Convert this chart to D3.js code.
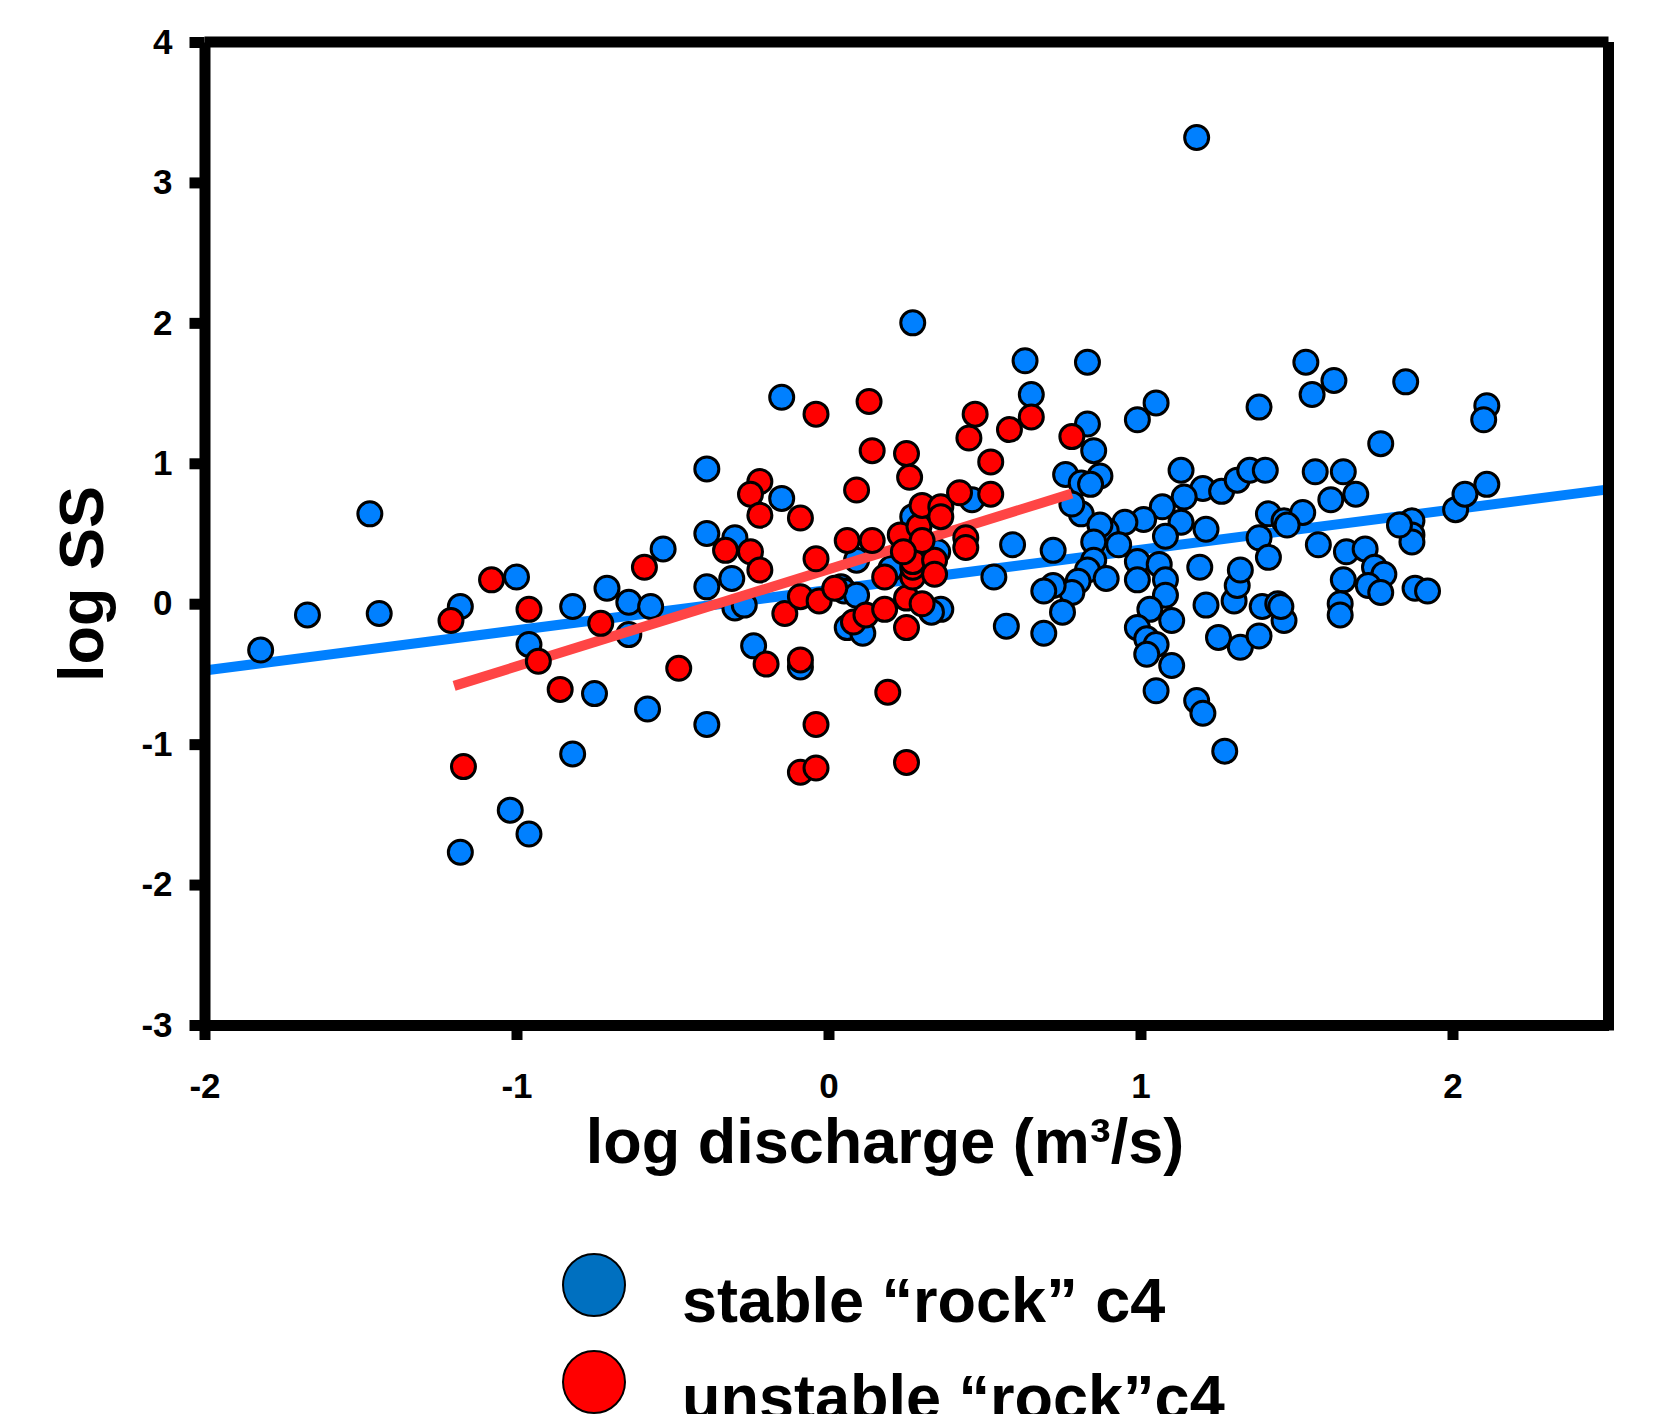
<!DOCTYPE html>
<html>
<head>
<script src="https://d3js.org/d3.v7.min.js" charset="utf-8"></script>
<style>
    body{
        margin:0;
        background:#fff;
        font-family:"Liberation Sans",Arial,Helvetica,sans-serif;
    }
    text{font-weight:bold}
</style>
</head>
<body>
<div id="chart"></div>
<script>

    // log discharge (x), log SS (y)
    var stablePoints = [
        [-1.82,-0.33],[-1.67,-0.08],[-1.47,0.64],[-1.44,-0.07],[-1.18,-0.02],[-1.00,0.19],[-0.96,-0.29],
        [-0.75,-0.64],[-0.82,-0.02],[-0.71,0.11],[-0.82,-1.07],[-1.02,-1.47],[-0.96,-1.64],[-1.18,-1.77],
        [-0.15,1.47],[-0.39,0.96],[-0.15,0.75],[-0.53,0.39],[-0.39,0.50],[-0.30,0.47],[-0.31,0.18],
        [-0.39,0.12],[-0.64,0.01],[-0.57,-0.02],[-0.64,-0.22],[-0.30,-0.03],[-0.27,-0.01],[-0.24,-0.30],
        [-0.58,-0.75],[-0.39,-0.86],[-0.09,-0.45],[0.09,0.31],[0.04,0.12],[0.05,0.09],[0.09,0.06],
        [0.06,-0.17],[0.11,-0.21],[0.36,-0.04],[0.33,-0.06],[0.27,0.62],[0.46,0.74],[0.35,0.37],[0.20,0.25],
        [0.63,1.73],[0.83,1.72],[0.65,1.49],[0.83,1.28],[0.85,1.09],[0.76,0.92],[0.81,0.86],[0.87,0.91],
        [0.84,0.85],[0.81,0.64],[0.78,0.71],[0.99,1.31],[1.05,1.43],[1.38,1.40],[1.13,0.95],[1.20,0.82],
        [1.26,0.80],[1.31,0.88],[1.35,0.95],[1.40,0.95],[1.14,0.76],[1.07,0.69],[1.13,0.58],[1.01,0.60],
        [0.95,0.58],[0.89,0.52],[0.87,0.56],[0.85,0.44],[0.93,0.42],[1.08,0.48],[1.21,0.53],[0.59,0.42],
        [0.72,0.38],[0.53,0.19],[0.85,0.31],[0.83,0.24],[0.89,0.18],[0.80,0.16],[0.78,0.08],[0.72,0.13],
        [0.69,0.09],[0.75,-0.06],[0.99,0.30],[1.06,0.28],[0.99,0.17],[1.08,0.17],[1.08,0.06],[1.03,-0.04],
        [1.10,-0.12],[0.99,-0.17],[1.02,-0.25],[1.05,-0.29],[1.02,-0.36],[1.10,-0.44],[1.05,-0.62],
        [1.18,-0.69],[1.20,-0.78],[1.27,-1.05],[1.19,0.26],[1.21,-0.01],[1.25,-0.24],[1.32,-0.31],
        [1.38,-0.23],[1.30,0.02],[1.31,0.13],[1.32,0.24],[1.39,-0.02],[1.44,0.00],[1.46,-0.12],[1.38,0.47],
        [1.41,0.33],[1.41,0.64],[1.46,0.59],[0.57,-0.16],[0.69,-0.21],
        [1.53,1.72],[1.62,1.59],[1.55,1.49],[1.85,1.58],[2.11,1.41],[2.10,1.31],[1.77,1.14],[1.56,0.94],
        [1.65,0.94],[1.69,0.78],[1.61,0.74],[1.52,0.65],[1.47,0.56],[1.57,0.42],[1.66,0.37],[1.72,0.39],
        [1.75,0.26],[1.78,0.21],[1.65,0.17],[1.73,0.13],[1.77,0.08],[1.64,0.00],[1.64,-0.08],[1.88,0.11],
        [1.92,0.09],[1.87,0.59],[1.87,0.49],[1.87,0.44],[1.83,0.56],[2.01,0.67],[2.04,0.78],[2.11,0.85],
        [1.45,-0.02],[1.18,3.32],[0.27,2.00]
    ]

    var unstablePoints = [
        [-1.21,-0.12],[-1.08,0.17],[-0.96,-0.04],[-0.93,-0.41],[-0.86,-0.61],[-0.73,-0.14],[-1.17,-1.16],
        [-0.04,1.35],[0.13,1.44],[0.47,1.35],[0.45,1.18],[0.14,1.09],[0.25,1.07],[0.26,0.90],[0.09,0.81],
        [-0.22,0.87],[-0.25,0.78],[-0.22,0.63],[-0.09,0.61],[-0.59,0.26],[-0.33,0.38],[-0.25,0.37],
        [-0.22,0.24],[-0.20,-0.43],[-0.48,-0.46],[-0.09,-0.40],[-0.04,-0.86],[-0.09,-1.20],[-0.04,-1.17],
        [0.25,-1.13],[0.19,-0.63],[-0.04,0.32],[0.06,0.45],[0.14,0.45],[-0.14,-0.07],[-0.09,0.05],
        [-0.03,0.02],[0.02,0.11],[0.08,-0.13],[0.12,-0.08],[0.18,0.19],[0.18,-0.04],[0.25,-0.17],
        [0.25,0.04],[0.27,0.19],[0.27,0.26],[0.27,0.30],[0.34,0.31],[0.34,0.21],[0.30,0.00],[0.23,0.49],
        [0.29,0.55],[0.30,0.45],[0.30,0.70],[0.36,0.69],[0.36,0.62],[0.42,0.79],[0.44,0.47],[0.44,0.40],
        [0.24,0.37],[0.58,1.24],[0.52,1.01],[0.78,1.19],[0.52,0.78],[0.65,1.33]
    ]

    // regression lines, end points
    var stableFitX = [-2, 2.5]
    var stableFitY = [-0.476, 0.814]
    var unstableFitX = [-1.2, 0.78]
    var unstableFitY = [-0.585, 0.785]

    var xTicks = [-2,-1,0,1,2]
    var yTicks = [-3,-2,-1,0,1,2,3,4]

    var legendLabels = ["stable \u201crock\u201d c4", "unstable \u201crock\u201dc4"]

    var blue = "#0080ff"
    var red = "#ff0000"
    var redLine = "#ff4545"
    var frameWidth = 11

    var plotLeft = 204.5, plotRight = 1608.5, plotTop = 42, plotBottom = 1025

    var xScale = d3.scaleLinear().domain([-2,2.5]).range([plotLeft,plotRight])
    var yScale = d3.scaleLinear().domain([-3,4]).range([plotBottom,plotTop])

    var svg = d3.select("#chart")
        .append("svg")
        .attr("width",1658)
        .attr("height",1414)

    var line = d3.line()
        .x(function(d){return xScale(d[0])})
        .y(function(d){return yScale(d[1])})

    function drawFit(xs,ys,col){
        svg.append("path")
            .datum(xs.map(function(x,i){return [x,ys[i]]}))
            .attr("d",line)
            .attr("fill","none")
            .attr("stroke",col)
            .attr("stroke-width",10)
    }

    function drawPoints(data,col){
        svg.append("g")
            .selectAll("circle")
            .data(data)
            .enter()
            .append("circle")
            .attr("cx",function(d){return xScale(d[0])})
            .attr("cy",function(d){return yScale(d[1])})
            .attr("r",12)
            .attr("fill",col)
            .attr("stroke","#000")
            .attr("stroke-width",3)
    }

    drawFit(stableFitX,stableFitY,blue)
    drawPoints(stablePoints,blue)
    drawFit(unstableFitX,unstableFitY,redLine)
    drawPoints(unstablePoints,red)

    // frame: top and right
    svg.append("line")
        .attr("x1",plotLeft).attr("x2",plotRight)
        .attr("y1",plotTop).attr("y2",plotTop)
        .attr("stroke","#000").attr("stroke-width",frameWidth)
    svg.append("line")
        .attr("x1",plotRight).attr("x2",plotRight)
        .attr("y1",plotTop).attr("y2",plotBottom+frameWidth/2)
        .attr("stroke","#000").attr("stroke-width",frameWidth)

    svg.append("g")
        .attr("transform","translate(0,"+plotBottom+")")
        .call(d3.axisBottom(xScale)
            .tickValues(xTicks)
            .tickSizeInner(15)
            .tickSizeOuter(0)
            .tickPadding(33)
            .tickFormat(function(d){return String(d)}))

    svg.append("g")
        .attr("transform","translate("+plotLeft+",0)")
        .call(d3.axisLeft(yScale)
            .tickValues(yTicks)
            .tickSizeInner(15)
            .tickSizeOuter(0)
            .tickPadding(17)
            .tickFormat(function(d){return String(d)}))

    svg.selectAll(".domain").attr("stroke","#000").attr("stroke-width",frameWidth)
    svg.selectAll(".tick line").attr("stroke","#000").attr("stroke-width",frameWidth)
    svg.selectAll(".tick text")
        .attr("fill","#000")
        .attr("font-size",35)
        .attr("font-family","'Liberation Sans',Arial,sans-serif")
        .attr("font-weight","bold")

    svg.append("text")
        .attr("x",885)
        .attr("y",1163)
        .attr("text-anchor","middle")
        .attr("font-size",63)
        .text("log discharge (m\u00b3/s)")

    svg.append("text")
        .attr("transform","translate(103,584) rotate(-90)")
        .attr("text-anchor","middle")
        .attr("font-size",63)
        .text("log SS")

    // legend
    var legendColors = ["#0070c0","#ff0000"]
    var legendY = [1285,1382]
    var legend = svg.append("g")
    legend.selectAll("circle")
        .data(legendLabels)
        .enter()
        .append("circle")
        .attr("cx",594)
        .attr("cy",function(d,i){return legendY[i]})
        .attr("r",31)
        .attr("fill",function(d,i){return legendColors[i]})
        .attr("stroke","#000")
        .attr("stroke-width",2)
    legend.selectAll("text")
        .data(legendLabels)
        .enter()
        .append("text")
        .attr("x",682)
        .attr("y",function(d,i){return legendY[i]+37})
        .attr("font-size",63)
        .text(function(d){return d})

</script>
</body>
</html>
